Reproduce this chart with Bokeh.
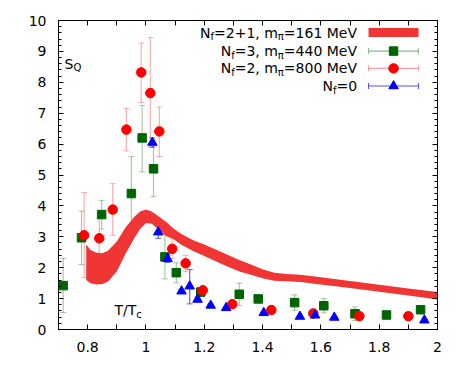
import math
from bokeh.plotting import figure
from bokeh.models import (ColumnDataSource, Whisker, TeeHead, LinearAxis,
                          FixedTicker, CustomJSTickFormatter, Label, Range1d)
from bokeh.embed import file_html
from bokeh.resources import INLINE

# ---------------- data ----------------
# N_f = 2+1, m_pi = 161 MeV (band)
band_T = [0.795, 0.81, 0.83, 0.85, 0.87, 0.90, 0.93, 0.96, 0.98, 1.00, 1.02, 1.05,
          1.07, 1.09, 1.12, 1.16, 1.20, 1.26, 1.32, 1.36, 1.40, 1.44, 1.48, 1.53,
          1.60, 1.70, 1.80, 1.90, 2.00]
band_upper = [2.75, 2.57, 2.48, 2.47, 2.55, 2.85, 3.30, 3.65, 3.82, 3.88, 3.82, 3.62,
              3.48, 3.30, 3.10, 2.90, 2.75, 2.50, 2.25, 2.10, 1.95, 1.84, 1.80, 1.77,
              1.69, 1.57, 1.45, 1.33, 1.21]
band_lower = [1.60, 1.50, 1.46, 1.47, 1.55, 1.88, 2.45, 2.95, 3.25, 3.45, 3.42, 3.18,
              3.02, 2.95, 2.75, 2.55, 2.38, 2.12, 1.88, 1.77, 1.66, 1.58, 1.56, 1.54,
              1.46, 1.34, 1.22, 1.10, 0.97]

# N_f = 3, m_pi = 440 MeV
nf3_T = [0.716, 0.779, 0.848, 0.950, 0.987, 1.026, 1.065, 1.104, 1.188, 1.320,
         1.385, 1.510, 1.610, 1.717, 1.825, 1.942]
nf3_S = [1.42, 2.97, 3.72, 4.40, 6.20, 5.20, 2.35, 1.84, 1.21, 1.14,
         0.99, 0.87, 0.77, 0.51, 0.47, 0.64]
nf3_hi = [2.30, 3.83, 4.18, 5.60, 7.25, 6.05, 3.07, 2.16, 1.31, 1.50,
          1.09, 1.12, 1.00, 0.73, 0.59, 0.76]
nf3_lo = [0.55, 2.10, 3.25, 3.20, 5.10, 4.30, 1.64, 1.51, 1.11, 0.78,
          0.89, 0.62, 0.54, 0.29, 0.35, 0.52]

# N_f = 2, m_pi = 800 MeV
nf2_T = [0.788, 0.840, 0.886, 0.933, 0.984, 1.015, 1.046, 1.090, 1.136, 1.195,
         1.296, 1.430, 1.574, 1.732, 1.900]
nf2_S = [3.05, 2.95, 3.88, 6.47, 8.32, 7.65, 6.41, 2.61, 2.14, 1.27,
         0.82, 0.63, 0.52, 0.43, 0.43]
nf2_hi = [4.43, 3.61, 4.72, 7.15, 9.27, 9.45, 7.20, 2.95, 2.40, 1.37,
          0.87, 0.67, 0.56, 0.47, 0.46]
nf2_lo = [1.68, 2.30, 3.05, 5.78, 7.35, 5.90, 5.60, 2.30, 1.87, 1.17,
          0.77, 0.59, 0.48, 0.39, 0.40]

# N_f = 0
nf0_T = [1.022, 1.042, 1.074, 1.122, 1.150, 1.177, 1.222, 1.275, 1.404, 1.528,
         1.580, 1.646, 1.955]
nf0_S = [6.05, 3.15, 2.29, 1.24, 1.40, 0.97, 0.78, 0.70, 0.54, 0.42,
         0.46, 0.39, 0.30]
nf0_hi = [6.20, 3.33, 2.40, 1.29, 1.94, 1.05, 0.81, 0.73, 0.57, 0.45,
          0.49, 0.42, 0.33]
nf0_lo = [5.90, 2.95, 2.17, 1.19, 0.83, 0.90, 0.75, 0.67, 0.51, 0.39,
          0.43, 0.36, 0.27]

x_major = [0.8, 1.0, 1.2, 1.4, 1.6, 1.8, 2.0]
x_minor = [0.7, 0.9, 1.1, 1.3, 1.5, 1.7, 1.9]
y_major = list(range(0, 11))
y_minor = [round(i * 0.2, 1) for i in range(0, 51)]

legend_labels = [
    ("N", "f", "=2+1, m", "\u03c0", "=161 MeV"),
    ("N", "f", "=3, m", "\u03c0", "=440 MeV"),
    ("N", "f", "=2, m", "\u03c0", "=800 MeV"),
    ("N", "f", "=0"),
]

# ---------------- style ----------------
FONT = "DejaVu Sans"
FS = 14
SUB_FS = 10
GREEN = "#006400"
RED = "#ff0000"
BLUE = "#0000ff"
BAND = "#f03535"

# DejaVu Sans advance widths (em)
ADV = {" ": 0.318, "=": 0.838, "+": 0.838, ",": 0.318, "M": 0.863, "e": 0.615,
       "V": 0.684, "N": 0.748, "m": 0.974, "f": 0.352, "\u03c0": 0.602,
       "S": 0.635, "Q": 0.787, "T": 0.611, "/": 0.337, "c": 0.550}
for d in "0123456789":
    ADV[d] = 0.636


def text_w(s, fs):
    return sum(ADV.get(ch, 0.6) for ch in s) * fs


p = figure(frame_width=379, frame_height=309,
           x_range=Range1d(0.7, 2.0), y_range=Range1d(0, 10),
           output_backend="svg", toolbar_location=None,
           min_border_left=58, min_border_top=20, min_border_right=15,
           min_border_bottom=20, background_fill_color="white",
           border_fill_color="white")
p.grid.visible = False
p.outline_line_color = "black"
p.outline_line_width = 1

xt = FixedTicker(ticks=x_major, minor_ticks=x_minor)
yt = FixedTicker(ticks=y_major, minor_ticks=y_minor)


def style_axis(ax, labels=True):
    ax.axis_line_color = None
    ax.major_tick_in = 5
    ax.major_tick_out = 0
    ax.major_tick_line_color = "black"
    ax.minor_tick_line_color = "black"
    if labels:
        ax.major_label_text_font = FONT
        ax.major_label_text_font_size = f"{FS}px"
        ax.major_label_text_color = "black"
        ax.major_label_standoff = 12
    else:
        ax.major_label_text_font_size = "0px"
        ax.major_label_standoff = 0
        ax.formatter = CustomJSTickFormatter(code="return ''")


xa = p.xaxis[0]
xa.ticker = xt
xa.formatter = CustomJSTickFormatter(code="return Number(tick.toFixed(1)).toString();")
style_axis(xa)
xa.minor_tick_in = 5
xa.minor_tick_out = 0

ya = p.yaxis[0]
ya.ticker = yt
style_axis(ya)
ya.minor_tick_in = 3
ya.minor_tick_out = 0

top = LinearAxis(ticker=FixedTicker(ticks=x_major, minor_ticks=x_minor))
style_axis(top, labels=False)
top.minor_tick_in = 5
top.minor_tick_out = 0
p.add_layout(top, "above")

right = LinearAxis(ticker=FixedTicker(ticks=y_major, minor_ticks=y_minor))
style_axis(right, labels=False)
right.minor_tick_in = 3
right.minor_tick_out = 0
p.add_layout(right, "right")

# band
p.varea(x=band_T, y1=band_lower, y2=band_upper, fill_color=BAND)


def series(T, S, lo, hi, color, bar_color, bar_alpha, marker, size):
    src = ColumnDataSource(dict(x=T, y=S, lo=lo, hi=hi))
    w = Whisker(source=src, base="x", upper="hi", lower="lo", dimension="height",
                line_color=bar_color, line_alpha=bar_alpha, line_width=1.2,
                upper_head=TeeHead(size=6, line_color=bar_color, line_alpha=bar_alpha),
                lower_head=TeeHead(size=6, line_color=bar_color, line_alpha=bar_alpha))
    p.add_layout(w)
    p.scatter("x", "y", source=src, marker=marker, size=size,
              fill_color=color, line_color=color)


series(nf3_T, nf3_S, nf3_lo, nf3_hi, GREEN, "#3a8a3a", 0.45, "square", 8.5)
series(nf2_T, nf2_S, nf2_lo, nf2_hi, RED, "#ff6060", 0.5, "circle", 9.5)
series(nf0_T, nf0_S, nf0_lo, nf0_hi, BLUE, "#2020ff", 0.7, "triangle", 9.5)

# ---------------- legend (manual) ----------------
LEG_X0, LEG_X1 = 1.7635, 1.935
LEG_XM = (LEG_X0 + LEG_X1) / 2
LEG_TX = 1.724
LEG_Y = [9.61, 9.01, 8.45, 7.88]

p.segment(x0=[LEG_X0], y0=[LEG_Y[0]], x1=[LEG_X1], y1=[LEG_Y[0]],
          line_color=BAND, line_width=9)
leg_styles = [(GREEN, "#3a8a3a", 0.6, "square", 8.5),
              (RED, "#ff6060", 0.6, "circle", 9.5),
              (BLUE, "#2020ff", 0.8, "triangle", 9.5)]
for (c, bc, ba, mk, sz), yy in zip(leg_styles, LEG_Y[1:]):
    p.segment(x0=[LEG_X0], y0=[yy], x1=[LEG_X1], y1=[yy],
              line_color=bc, line_alpha=ba, line_width=1.2)
    p.scatter(x=[LEG_X0, LEG_X1], y=[yy, yy], marker="dash", angle=math.pi / 2,
              size=6, line_color=bc, line_alpha=ba)
    p.scatter(x=[LEG_XM], y=[yy], marker=mk, size=sz, fill_color=c, line_color=c)


def add_rich(pieces, x, y, align="right"):
    """pieces: alternating normal / subscript strings, starting with normal"""
    sizes = [FS if i % 2 == 0 else SUB_FS for i in range(len(pieces))]
    widths = [text_w(s, fs) for s, fs in zip(pieces, sizes)]
    off = -sum(widths) if align == "right" else 0.0
    for i, (s, fs, w) in enumerate(zip(pieces, sizes, widths)):
        sub = i % 2 == 1
        p.add_layout(Label(x=x, y=y, x_offset=off, y_offset=-4 if sub else 0,
                           text=s, text_font=FONT, text_font_size=f"{fs}px",
                           text_align="left", text_baseline="middle",
                           text_color="black"))
        off += w


for pieces, yy in zip(legend_labels, LEG_Y):
    add_rich(list(pieces), LEG_TX, yy, align="right")

# axis titles inside the frame
add_rich(["S", "Q"], 0.7206, 8.6, align="left")
add_rich(["T/T", "c"], 0.892, 0.62, align="left")

open("out.html", "w").write(file_html(p, INLINE))
